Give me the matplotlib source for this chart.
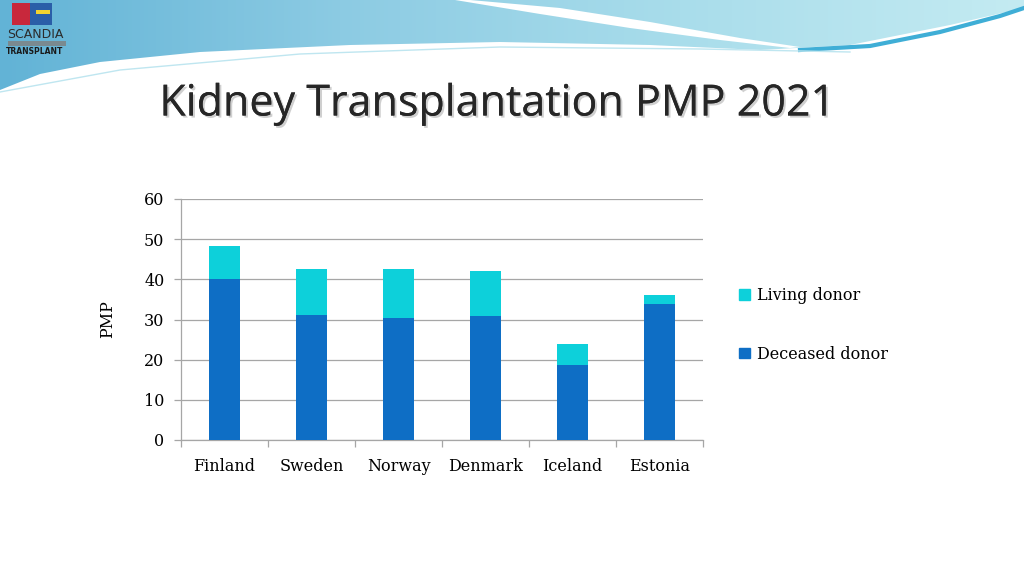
import numpy as np
import matplotlib
matplotlib.use("Agg")
import matplotlib.pyplot as plt
from matplotlib.patches import Polygon, Patch, Rectangle
from matplotlib.colors import LinearSegmentedColormap
import matplotlib.patheffects as pe

countries = ["Finland", "Sweden", "Norway", "Denmark", "Iceland", "Estonia"]
deceased = [40.0, 31.2, 30.3, 30.8, 18.6, 33.8]
living = [8.2, 11.4, 12.3, 11.3, 5.4, 2.2]

c_dec = "#0E6EC5"
c_liv = "#0DD0DA"

fig = plt.figure(figsize=(10.24, 5.76), dpi=100)

# background decoration (header swoosh)
bg = fig.add_axes([0, 0, 1, 1])
bg.set_xlim(0, 1024)
bg.set_ylim(576, 0)
bg.axis("off")

cx = [0, 40, 100, 200, 350, 500, 650, 760, 850, 950, 1024]
cy = [90, 74, 62, 52, 45, 42, 45, 50, 45, 25, 8]
band = Polygon(list(zip(cx, cy)) + [(1024, 0), (0, 0)], closed=True,
               facecolor="none", edgecolor="none")
bg.add_patch(band)
cmap = LinearSegmentedColormap.from_list("hdr", ["#62B3D6", "#8CCBE3", "#A9DDEB", "#C4EBF2"])
grad = np.linspace(0, 1, 256).reshape(1, -1)
im = bg.imshow(grad, extent=[0, 1024, 100, 0], cmap=cmap, aspect="auto", zorder=0)
im.set_clip_path(band)

# white swoosh separating the darker and lighter parts
sw_top = [(470, 0), (560, 8), (650, 22), (740, 38), (800, 47)]
sw_bot = [(790, 48), (720, 40), (630, 28), (540, 14), (455, 0)]
bg.add_patch(Polygon(sw_top + sw_bot, closed=True, facecolor="white", edgecolor="none", zorder=1))
bg.plot([800, 870, 940, 1000, 1024], [50, 46, 32, 16, 8], color="#3FAED6", lw=3, zorder=2)
bg.plot([0, 120, 300, 500, 700, 850], [92, 70, 54, 47, 49, 52], color="#BFE6F0", lw=1, zorder=2)

# logo
bg.add_patch(Rectangle((12, 3), 40, 22, facecolor="#C8283C", edgecolor="none", zorder=3))
bg.add_patch(Rectangle((30, 3), 22, 22, facecolor="#2A5EA8", edgecolor="none", zorder=3))
bg.add_patch(Rectangle((36, 10), 14, 4, facecolor="#F2D230", edgecolor="none", zorder=3))
bg.text(35, 34, "SCANDIA", fontsize=9, color="#2B2B2B", ha="center", va="center", zorder=4)
bg.add_patch(Rectangle((8, 41), 58, 5, facecolor="#7A8A90", edgecolor="none", zorder=3))
bg.text(35, 52, "TRANSPLANT", fontsize=5.5, color="#1A1A1A", ha="center", va="center",
        weight="bold", zorder=4)

# title
bg.text(497, 104, "Kidney Transplantation PMP 2021", fontsize=31, color="#262626",
        family="Open Sans", ha="center", va="center",
        path_effects=[pe.withSimplePatchShadow(offset=(1.5, -1.5), shadow_rgbFace="#A0A0A0", alpha=0.5),
                      pe.Normal()])

# chart
ax = fig.add_axes([181 / 1024, 1 - 440 / 576, (703 - 181) / 1024, (440 - 199) / 576])
x = np.arange(len(countries))
w = 0.345
ax.bar(x, deceased, w, color=c_dec, zorder=3, label="Deceased donor")
ax.bar(x, living, w, bottom=deceased, color=c_liv, zorder=3, label="Living donor")

ax.set_xlim(-0.5, len(countries) - 0.5)
ax.set_ylim(0, 60)
ax.set_yticks(range(0, 61, 10))
ax.yaxis.grid(True, color="#A6A6A6", lw=0.9, zorder=0)
ax.set_axisbelow(True)
for s in ["top", "right"]:
    ax.spines[s].set_visible(False)
for s in ["left", "bottom"]:
    ax.spines[s].set_color("#A6A6A6")
    ax.spines[s].set_linewidth(0.9)

serif = "DejaVu Serif"
fs = 11.5
ax.set_xticks(x)
ax.set_xticklabels(countries, fontsize=fs, family=serif)
ax.set_xticks(np.arange(-0.5, len(countries)), minor=True)
ax.tick_params(axis="x", which="major", length=0, pad=13)
ax.tick_params(axis="x", which="minor", length=5, color="#A6A6A6", width=0.9)
ax.tick_params(axis="y", length=5, color="#A6A6A6", width=0.9, pad=7, labelsize=fs)
for t in ax.get_yticklabels():
    t.set_family(serif)
ax.set_ylabel("PMP", fontsize=fs, family=serif, labelpad=20)

handles = [Patch(color=c_liv), Patch(color=c_dec)]
fig.legend(handles, ["Living donor", "Deceased donor"], loc="center left",
           bbox_to_anchor=(725 / 1024, 1 - 325 / 576), frameon=False,
           prop={"family": serif, "size": fs}, handlelength=0.65, handleheight=0.65,
           handletextpad=0.45, labelspacing=2.6)

fig.savefig("out.png", dpi=100)
